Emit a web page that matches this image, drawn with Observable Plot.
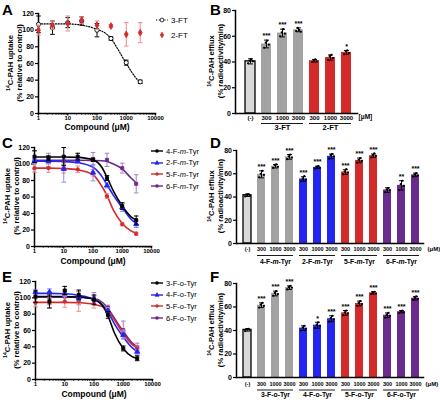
<!DOCTYPE html>
<html><head><meta charset="utf-8">
<script src="https://cdn.jsdelivr.net/npm/d3@7"></script>
<script src="https://cdn.jsdelivr.net/npm/@observablehq/plot@0.6"></script>
<style>
body{margin:0;background:#fff;}
#fig{position:relative;width:440px;height:402px;overflow:hidden;background:#fff;font-family:'Liberation Sans',Arial,sans-serif;color:#000;}
.panel{position:absolute;}
.letter{position:absolute;font-weight:bold;font-size:15px;line-height:15px;}
.ylab{position:absolute;font-weight:bold;font-size:7.6px;line-height:8.6px;white-space:nowrap;text-align:center;transform:translate(-50%,-50%) rotate(-90deg);}
.ylab sup{font-size:5.2px;vertical-align:3px;line-height:0;}
.lrow{position:absolute;height:10px;display:flex;align-items:center;font-size:7.5px;white-space:nowrap;}
.lrow svg{margin-right:2px;}
</style>
</head><body>
<div id="fig">
  <div class="letter" style="left:2px;top:2px">A</div>
  <div class="letter" style="left:210px;top:2px">B</div>
  <div class="letter" style="left:2px;top:135px">C</div>
  <div class="letter" style="left:210px;top:135px">D</div>
  <div class="letter" style="left:2px;top:269px">E</div>
  <div class="letter" style="left:210px;top:269px">F</div>
  <div class="ylab" style="left:16px;top:63px"><sup>14</sup>C-PAH uptake<br>(% relative to control)</div>
  <div class="ylab" style="left:217px;top:61px"><sup>14</sup>C-PAH efflux<br>(% radioactivity/min)</div>
  <div class="ylab" style="left:13px;top:196px"><sup>14</sup>C-PAH uptake<br>(% relative to control)</div>
  <div class="ylab" style="left:217px;top:196px"><sup>14</sup>C-PAH efflux<br>(% radioactivity/min)</div>
  <div class="ylab" style="left:13px;top:330px"><sup>14</sup>C-PAH uptake<br>(% relative to control)</div>
  <div class="ylab" style="left:217px;top:330px"><sup>14</sup>C-PAH efflux<br>(% radioactivity/min)</div>
</div>
<script>
// ---------- data ----------
const conc = [1, 3, 10, 30, 100, 300, 1000, 3000];
const fitConc = [1, 3, 10, 30, 100, 200, 300, 500, 1000, 2000, 3000];
const xMajorTicks = [1, 10, 100, 1000, 10000];
const yUptakeTicks = [0, 20, 40, 60, 80, 100, 120];
const yEffluxTicks = [0, 20, 40, 60, 80];
const barConc = [300, 1000, 3000];

// Panel A
const a3FT_mean = [107, 103, 109, 111, 100, 90, 61, 38];
const a3FT_sd   = [10, 8, 6, 5, 8, 2, 3, 2];
const a3FT_fit  = [107.5, 107.5, 107.5, 106, 101, 96, 90, 78, 60, 44, 37];
const a2FT_mean = [100, 106, 108, 112, 106, 105, 95, 97];
const a2FT_sd   = [6, 5, 9, 4, 5, 2, 14, 12];

// Panel C
const c4F_mean = [109, 107, 109, 109, 105, 83, 49, 32];
const c4F_sd   = [7, 3, 11, 4, 2, 3, 4, 5];
const c4F_fit  = [108.5, 108.5, 108.5, 108, 105, 96, 84, 67, 49, 36, 32];
const c2F_mean = [103.5, 103.5, 94, 103.5, 89.5, 74, 47.5, 27];
const c2F_sd   = [3, 3, 16, 3, 10, 3, 5, 4];
const c2F_fit  = [103.5, 103.5, 103, 101.5, 96, 85, 75, 62, 47, 33, 28];
const c5F_mean = [95, 95, 95, 93.5, 89.5, 61, 27, 15.5];
const c5F_sd   = [5, 5, 6, 4, 4, 3, 2, 2];
const c5F_fit  = [95, 95, 94.5, 93, 87, 73, 62, 44, 28, 19, 16];
const c6F_mean = [105, 105, 103.5, 105, 106, 105, 95, 76];
const c6F_sd   = [11, 8, 4, 4, 8, 8, 6, 11];
const c6F_fit  = [104.5, 104.5, 104.5, 104.5, 104.3, 104, 103, 100, 94, 83, 77];

// Panel E
const e3F_mean = [101.5, 95.5, 109, 103.5, 97.5, 79, 38, 26];
const e3F_sd   = [7, 8, 5, 6, 6, 4, 3, 3];
const e3F_fit  = [101.5, 101.5, 101.5, 101, 98, 90, 78, 57, 38, 28, 26];
const e4F_mean = [107, 107, 105.5, 100.5, 98.5, 84, 54.5, 34];
const e4F_sd   = [3, 4, 4, 4, 4, 3, 4, 3];
const e4F_fit  = [105.5, 105.5, 105, 103, 98, 91, 83, 68, 52, 39, 34];
const e5F_mean = [94, 94, 95.5, 95.5, 93.5, 85, 56.5, 38];
const e5F_sd   = [5, 6, 7, 12, 6, 3, 4, 3];
const e5F_fit  = [94.5, 94.5, 94.5, 94, 92, 89, 85, 73, 56, 43, 38];
const e6F_mean = [100.5, 99.5, 101.5, 99.5, 99.5, 88, 60.5, 39.5];
const e6F_sd   = [6, 8, 6, 8, 7, 3, 11, 5];
const e6F_fit  = [101, 101, 101, 100.5, 99, 94, 87, 75, 59, 45, 40];

// Panel B
const bGroups = ["3-FT", "2-FT"];
const bMean = [40.5, 54, 62.5, 65, 41, 43.5, 47.5];
const bSd   = [2, 3, 3, 1.5, 1, 2, 1.5];
const bStars = ["", "***", "***", "***", "", "", "*"];
const bReps = [[39, 41, 42, 40.5], [51, 55, 56.5, 53.5], [60, 63, 65.5, 62], [64, 66.5, 65, 63.5],
               [40, 41.5, 42, 40.5], [41.5, 44.5, 45.5, 43], [46, 48.5, 49, 47]];

// Panel D
const dGroups = ["4-F-m-Tyr", "2-F-m-Tyr", "5-F-m-Tyr", "6-F-m-Tyr"];
const dMean = [41.5, 59.5, 66.5, 74.5, 55.5, 65.5, 75, 61.5, 71.5, 75.5, 46, 50, 59];
const dSd   = [1, 3, 1.5, 2, 2, 1, 2, 2, 2, 1.5, 2, 4, 1.5];
const dStars = ["", "***", "***", "***", "***", "***", "***", "***", "***", "***", "", "**", "***"];
const dReps = [[40.5, 42, 42.5, 41],
  [57, 60, 62.5, 59], [65, 67.5, 68, 66], [72.5, 75, 76.5, 74],
  [53.5, 56, 58, 55], [64.5, 66, 66.5, 65], [73, 76, 77, 75],
  [59.5, 62, 64, 61], [69.5, 72, 73.5, 71], [74, 76, 77.5, 75.5],
  [44, 46.5, 47.5, 46], [46, 51, 54, 49.5], [57.5, 59.5, 60.5, 58.5]];

// Panel F
const fGroups = ["3-F-o-Tyr", "4-F-o-Tyr", "5-F-o-Tyr", "6-F-o-Tyr"];
const fMean = [40.5, 61.5, 71.5, 76.5, 42, 44.5, 50, 55, 63, 72, 53, 56, 67.5];
const fSd   = [1, 2, 2, 1.5, 2, 2.5, 2.5, 2, 2, 1, 2, 1, 1.5];
const fStars = ["", "***", "***", "***", "", "*", "***", "***", "***", "***", "***", "***", "***"];
const fReps = [[39.5, 41, 41.5, 40.5],
  [59.5, 62, 63.5, 61], [69.5, 72, 73.5, 71], [75, 77, 78, 76.5],
  [40, 42.5, 44, 41.5], [42, 45, 47, 44], [47.5, 50.5, 52.5, 49.5],
  [53, 55.5, 57, 54.5], [61, 63.5, 65, 62.5], [71, 72.5, 73, 71.5],
  [51, 53.5, 55, 52.5], [55, 56.5, 57, 55.5], [66, 68, 69, 67]];

// ---------- styling ----------
const BLACK = "#000", BLUE = "#2525f2", RED = "#d42a2a", PURPLE = "#6b2a8e", GRAY = "#a2a2a2", CTRL = "#d9d9d9";
const ERR = {black: "#000", blue: "#7f8cff", red: "#e88b8b", purple: "#a980c2"};
const style = {fontFamily: "'Liberation Sans', Arial, sans-serif", fontWeight: "bold", fontSize: "7px", color: "#000", background: "transparent", overflow: "visible"};
const cap = {draw(ctx, size) { const r = Math.sqrt(size / Math.PI); ctx.moveTo(-r, 0); ctx.lineTo(r, 0); }};
const minorTicks = [];
for (const p of [1, 10, 100, 1000]) for (let k = 2; k <= 9; k++) minorTicks.push(k * p);

const fig = document.getElementById("fig");
function place(node, left, top) {
  const d = document.createElement("div");
  d.className = "panel"; d.style.left = left + "px"; d.style.top = top + "px";
  d.appendChild(node); fig.appendChild(d);
}
function italicM(svg) {
  d3.select(svg).selectAll("text").each(function () {
    const t = this.textContent;
    if (this.childElementCount === 0 && t.includes("-m-")) {
      const [a, b] = t.split("-m-");
      const s = d3.select(this).text(null);
      s.append("tspan").text(a + "-");
      s.append("tspan").attr("font-style", "italic").text("m");
      s.append("tspan").text("-" + b);
    }
  });
}

function curvePanel(series, m, dyTitle) {
  const marks = [
    Plot.frame({anchor: "left", strokeWidth: 1.5}),
    Plot.frame({anchor: "bottom", strokeWidth: 1.5}),
    Plot.axisY(yUptakeTicks, {tickSize: 3, tickPadding: 1.5, fontSize: 7, label: null, strokeWidth: 1.2}),
    Plot.axisX(xMajorTicks, {tickSize: 2.5, tickPadding: 0, fontSize: 6, tickFormat: d => String(d), label: null, strokeWidth: 1.2}),
    Plot.axisX(minorTicks, {tickSize: 1.6, tickFormat: () => "", label: null, strokeWidth: 1}),
    Plot.text(["Compound (μM)"], {frameAnchor: "bottom", dy: dyTitle, fontSize: 8.5, fontWeight: "bold"})
  ];
  for (const s of series) {
    if (s.fit) marks.push(Plot.line(fitConc.map((c, i) => ({x: c, y: s.fit[i]})),
      {x: "x", y: "y", curve: "monotone-x", stroke: s.color, strokeWidth: s.dash ? 1.2 : 1.6, strokeDasharray: s.dash}));
  }
  for (const s of series) {
    const pts = conc.map((c, i) => ({x: c, y: s.mean[i], lo: s.mean[i] - s.sd[i], hi: s.mean[i] + s.sd[i]}));
    marks.push(Plot.ruleX(pts, {x: "x", y1: "lo", y2: "hi", stroke: s.err, strokeWidth: 1}));
    marks.push(Plot.dot(pts, {x: "x", y: "hi", symbol: cap, r: 2.3, stroke: s.err, fill: "none", strokeWidth: 1}));
    marks.push(Plot.dot(pts, {x: "x", y: "lo", symbol: cap, r: 2.3, stroke: s.err, fill: "none", strokeWidth: 1}));
    marks.push(Plot.dot(pts, {x: "x", y: "y", symbol: s.symbol, r: s.r, fill: s.fill, stroke: s.color, strokeWidth: 0.9}));
  }
  return Plot.plot({width: 220, height: 134, ...m, style,
    x: {type: "log", domain: [1, 10000]}, y: {domain: [0, 120]}, marks});
}

function barPanel(groups, colors, means, sds, reps, stars, cfg) {
  const rows = [{key: "(-)", label: "(-)", fill: CTRL, mean: means[0], sd: sds[0], reps: reps[0], stars: stars[0]}];
  groups.forEach((g, gi) => barConc.forEach((c, ci) => {
    const i = 1 + gi * barConc.length + ci;
    rows.push({key: g + "|" + c, label: String(c), fill: colors[gi], mean: means[i], sd: sds[i], reps: reps[i], stars: stars[i]});
  }));
  const grp = groups.map(g => ({name: g, first: g + "|" + barConc[0], mid: g + "|" + barConc[1], last: g + "|" + barConc[2]}));
  const labelOf = new Map(rows.map(r => [r.key, r.label]));
  const jit = [-2.4, -0.8, 0.8, 2.4];
  const marks = [
    Plot.barY(rows.slice(0, 1), {x: "key", y: "mean", fill: CTRL, stroke: "#000", strokeWidth: 1.3}),
    Plot.barY(rows.slice(1), {x: "key", y: "mean", fill: "fill"}),
    Plot.frame({anchor: "left", strokeWidth: 1.5}),
    Plot.frame({anchor: "bottom", strokeWidth: 1.5}),
    Plot.axisY(yEffluxTicks, {tickSize: 3, tickPadding: 1.5, fontSize: 7, label: null, strokeWidth: 1.2}),
    Plot.axisX({tickSize: 0, tickPadding: cfg.tickPad, fontSize: cfg.tickFont, tickFormat: k => labelOf.get(k), label: null}),
    Plot.ruleX(rows, {x: "key", y1: d => d.mean - d.sd, y2: d => d.mean + d.sd, strokeWidth: 1}),
    Plot.dot(rows, {x: "key", y: d => d.mean + d.sd, symbol: cap, r: 2.4, stroke: "#000", fill: "none", strokeWidth: 1}),
    Plot.dot(rows, {x: "key", y: d => d.mean - d.sd, symbol: cap, r: 2.4, stroke: "#000", fill: "none", strokeWidth: 1}),
    ...jit.map((dx, j) => Plot.dot(rows, {x: "key", y: d => d.reps[j], r: 1.1, fill: "#000", dx})),
    Plot.text(rows.filter(d => d.stars), {x: "key", y: d => d.mean + d.sd, text: "stars", dy: -4, fontSize: 7}),
    Plot.text([cfg.unit], {frameAnchor: "bottom-right", dx: cfg.unitDx, dy: cfg.unitDy, textAnchor: "start", fontSize: cfg.tickFont + 0.5}),
    Plot.ruleY(grp, {x1: "first", x2: "last", y: () => 0, dy: cfg.dyUnder, strokeWidth: 0.9}),
    Plot.text(grp, {x: "mid", text: "name", frameAnchor: "bottom", dy: cfg.dyName, fontSize: cfg.nameFont})
  ];
  return Plot.plot({width: 220, height: 134, ...cfg.m, style,
    x: {type: "band", domain: rows.map(r => r.key), paddingInner: 0.4, paddingOuter: cfg.po, align: cfg.align},
    y: {domain: [0, 80]}, color: {type: "identity"}, marks});
}

// ---------- panels ----------
const A = curvePanel([
  {color: BLACK, err: ERR.black, symbol: "circle", fill: "white", r: 2.1, mean: a3FT_mean, sd: a3FT_sd, fit: a3FT_fit, dash: "1.2,1.6"},
  {color: RED, err: ERR.red, symbol: "diamond", fill: RED, r: 2, mean: a2FT_mean, sd: a2FT_sd}
], {marginTop: 13, marginRight: 65, marginBottom: 21, marginLeft: 38}, 16.5);
place(A, 0, 0);

const C = curvePanel([
  {color: PURPLE, err: ERR.purple, symbol: "square", fill: PURPLE, r: 1.7, mean: c6F_mean, sd: c6F_sd, fit: c6F_fit},
  {color: RED, err: ERR.red, symbol: "circle", fill: RED, r: 1.7, mean: c5F_mean, sd: c5F_sd, fit: c5F_fit},
  {color: BLUE, err: ERR.blue, symbol: "triangle", fill: BLUE, r: 1.9, mean: c2F_mean, sd: c2F_sd, fit: c2F_fit},
  {color: BLACK, err: ERR.black, symbol: "square", fill: BLACK, r: 1.7, mean: c4F_mean, sd: c4F_sd, fit: c4F_fit}
], {marginTop: 13, marginRight: 69, marginBottom: 22, marginLeft: 34}, 17.5);
place(C, 0, 134);

const E = curvePanel([
  {color: PURPLE, err: ERR.purple, symbol: "square", fill: PURPLE, r: 1.7, mean: e6F_mean, sd: e6F_sd, fit: e6F_fit},
  {color: RED, err: ERR.red, symbol: "circle", fill: RED, r: 1.7, mean: e5F_mean, sd: e5F_sd, fit: e5F_fit},
  {color: BLUE, err: ERR.blue, symbol: "triangle", fill: BLUE, r: 1.9, mean: e4F_mean, sd: e4F_sd, fit: e4F_fit},
  {color: BLACK, err: ERR.black, symbol: "square", fill: BLACK, r: 1.7, mean: e3F_mean, sd: e3F_sd, fit: e3F_fit}
], {marginTop: 13, marginRight: 68, marginBottom: 23, marginLeft: 35}, 17);
place(E, 0, 268);

const B = barPanel(bGroups, [GRAY, RED], bMean, bSd, bReps, bStars,
  {m: {marginTop: 10, marginRight: 83, marginBottom: 21, marginLeft: 15}, po: 0.3, align: 0.6,
   tickPad: 2, tickFont: 6, unit: "[μM]", unitDx: 1, unitDy: 5, dyUnder: 10, dyName: 16, nameFont: 7.5});
place(B, 220, 0);

const D = barPanel(dGroups, [GRAY, BLUE, RED, PURPLE], dMean, dSd, dReps, dStars,
  {m: {marginTop: 16, marginRight: 17, marginBottom: 25, marginLeft: 16}, po: 0.23, align: 0.7,
   tickPad: 4, tickFont: 5.5, unit: "(μM)", unitDx: 4, unitDy: 7, dyUnder: 12, dyName: 20, nameFont: 6.8});
italicM(D);
place(D, 220, 134);

const F = barPanel(fGroups, [GRAY, BLUE, RED, PURPLE], fMean, fSd, fReps, fStars,
  {m: {marginTop: 15, marginRight: 17, marginBottom: 25, marginLeft: 16}, po: 0.23, align: 0.7,
   tickPad: 5, tickFont: 5.5, unit: "(μM)", unitDx: 2, unitDy: 8, dyUnder: 12.5, dyName: 19, nameFont: 6.8});
place(F, 220, 268);

// ---------- legends ----------
const symMap = {circle: d3.symbolCircle, square: d3.symbolSquare, triangle: d3.symbolTriangle, diamond: d3.symbolDiamond};
function legend(items, x, y0, dy) {
  items.forEach((it, i) => {
    const row = document.createElement("div");
    row.className = "lrow";
    row.style.left = x + "px"; row.style.top = (y0 + i * dy - 5) + "px";
    const svg = d3.create("svg").attr("width", 14).attr("height", 10);
    if (it.line) svg.append("line").attr("x1", 1).attr("x2", 13).attr("y1", 5).attr("y2", 5)
      .attr("stroke", it.color).attr("stroke-width", it.dash ? 1.2 : 1.4).attr("stroke-dasharray", it.dash || null);
    svg.append("path").attr("transform", "translate(7,5)").attr("d", d3.symbol(symMap[it.symbol], it.r * it.r * Math.PI)())
      .attr("fill", it.fill).attr("stroke", it.color).attr("stroke-width", 0.8);
    row.appendChild(svg.node());
    const sp = document.createElement("span"); sp.innerHTML = it.html; row.appendChild(sp);
    if (it.size) row.style.fontSize = it.size;
    fig.appendChild(row);
  });
}
legend([
  {html: "3-FT", color: BLACK, symbol: "circle", fill: "white", r: 1.9, line: true, dash: "1.2,1.6", size: "8px"},
  {html: "2-FT", color: RED, symbol: "diamond", fill: RED, r: 1.7, line: false, size: "8px"}
], 155, 20, 15);
legend([
  {html: "4-F-<i>m</i>-Tyr", color: BLACK, symbol: "square", fill: BLACK, r: 1.3, line: true},
  {html: "2-F-<i>m</i>-Tyr", color: BLUE, symbol: "triangle", fill: BLUE, r: 1.5, line: true},
  {html: "5-F-<i>m</i>-Tyr", color: RED, symbol: "circle", fill: RED, r: 1.3, line: true},
  {html: "6-F-<i>m</i>-Tyr", color: PURPLE, symbol: "square", fill: PURPLE, r: 1.3, line: true}
], 150, 151, 11.7);
legend([
  {html: "3-F-o-Tyr", color: BLACK, symbol: "square", fill: BLACK, r: 1.3, line: true},
  {html: "4-F-o-Tyr", color: BLUE, symbol: "triangle", fill: BLUE, r: 1.5, line: true},
  {html: "5-F-o-Tyr", color: RED, symbol: "circle", fill: RED, r: 1.3, line: true},
  {html: "6-F-o-Tyr", color: PURPLE, symbol: "square", fill: PURPLE, r: 1.3, line: true}
], 150, 283, 11.7);
</script>
</body></html>
